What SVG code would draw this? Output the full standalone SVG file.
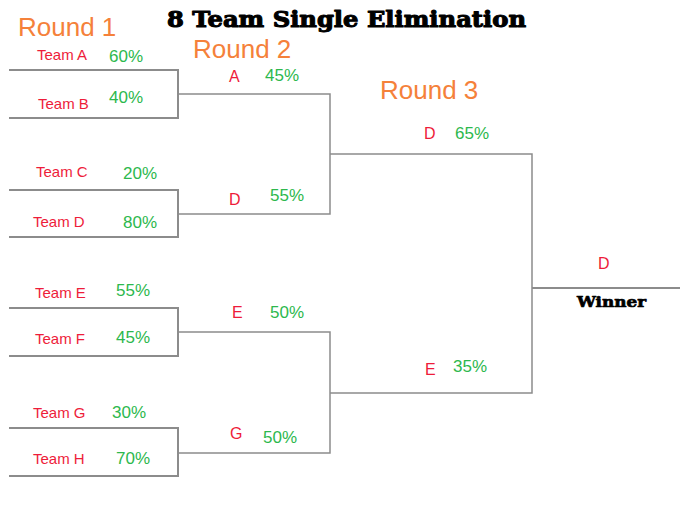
<svg xmlns="http://www.w3.org/2000/svg" width="697" height="523" viewBox="0 0 697 523">
<style>
.title{font-family:"DejaVu Serif",serif;font-weight:bold;font-size:23px;fill:#000;stroke:#000;stroke-width:1.1px;stroke-linejoin:round}
.win{font-family:"DejaVu Serif",serif;font-weight:bold;font-size:15px;fill:#000;stroke:#000;stroke-width:0.7px;stroke-linejoin:round}
.round{font-family:"Liberation Sans",Arial,sans-serif;font-size:26px;fill:#F5813A}
.team{font-family:"Liberation Sans",Arial,sans-serif;font-size:15px;fill:#EE1C3A}
.pick{font-family:"Liberation Sans",Arial,sans-serif;font-size:16px;fill:#EE1C3A}
.pct{font-family:"Liberation Sans",Arial,sans-serif;font-size:17px;fill:#2DB84D}
.l1{stroke:#8c8c8c;stroke-width:2;fill:none}
.l2{stroke:#8c8c8c;stroke-width:1.5;fill:none}
</style>
<rect width="697" height="523" fill="#fff"/>
<text class="title" x="167" y="27" textLength="359" lengthAdjust="spacingAndGlyphs">8 Team Single Elimination</text>
<text class="round" x="18" y="36">Round 1</text>
<text class="round" x="193" y="58">Round 2</text>
<text class="round" x="380" y="99">Round 3</text>
<g id="connectors">
<path class="l1" d="M9 70H178V118H9"/>
<path class="l1" d="M9 190H178V237H9"/>
<path class="l1" d="M9 308H178V356H9"/>
<path class="l1" d="M9 428H178V476H9"/>
<path class="l2" d="M178 94H330V214H178"/>
<path class="l2" d="M178 332H330V453H178"/>
<path class="l2" d="M330 154H532V393H330"/>
<path class="l1" d="M532 288H680"/>
</g>
<g id="team-a"><text class="team" x="37" y="60">Team A</text><text class="pct" x="109" y="62">60%</text></g>
<g id="team-b"><text class="team" x="38" y="109">Team B</text><text class="pct" x="109" y="103">40%</text></g>
<g id="team-c"><text class="team" x="36" y="177">Team C</text><text class="pct" x="123" y="179">20%</text></g>
<g id="team-d"><text class="team" x="33" y="227">Team D</text><text class="pct" x="123" y="228">80%</text></g>
<g id="team-e"><text class="team" x="35" y="298">Team E</text><text class="pct" x="116" y="296">55%</text></g>
<g id="team-f"><text class="team" x="35" y="344">Team F</text><text class="pct" x="116" y="343">45%</text></g>
<g id="team-g"><text class="team" x="33" y="418">Team G</text><text class="pct" x="112" y="418">30%</text></g>
<g id="team-h"><text class="team" x="33" y="464">Team H</text><text class="pct" x="116" y="464">70%</text></g>
<g id="r2-a"><text class="pick" x="229" y="82">A</text><text class="pct" x="265" y="81">45%</text></g>
<g id="r2-d"><text class="pick" x="229" y="205">D</text><text class="pct" x="270" y="201">55%</text></g>
<g id="r2-e"><text class="pick" x="232" y="318">E</text><text class="pct" x="270" y="318">50%</text></g>
<g id="r2-g"><text class="pick" x="230" y="439">G</text><text class="pct" x="263" y="443">50%</text></g>
<g id="r3-d"><text class="pick" x="424" y="139">D</text><text class="pct" x="455" y="139">65%</text></g>
<g id="r3-e"><text class="pick" x="425" y="375">E</text><text class="pct" x="453" y="372">35%</text></g>
<g id="winner"><text class="pick" x="598" y="269">D</text><text class="win" x="577" y="307" textLength="69" lengthAdjust="spacingAndGlyphs">Winner</text></g>
</svg>
